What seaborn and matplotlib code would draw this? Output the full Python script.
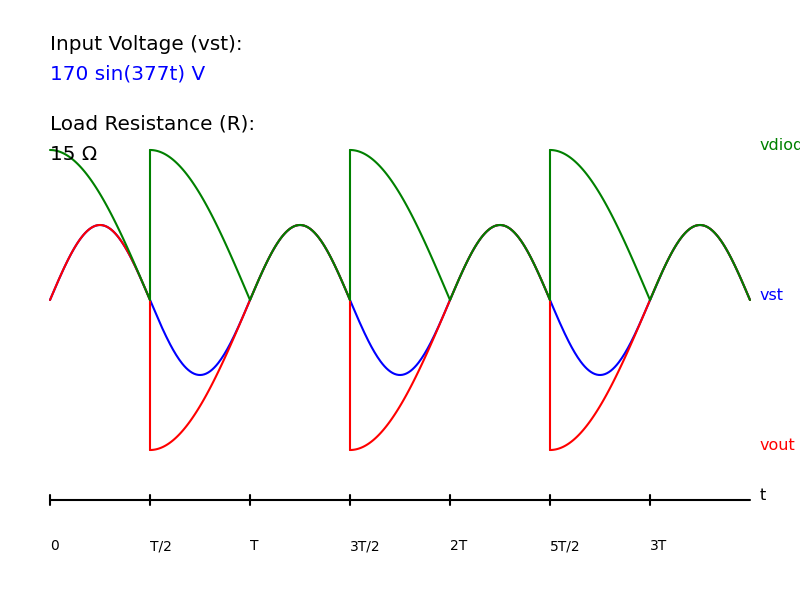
import numpy as np
import pandas as pd
import seaborn as sns
import matplotlib.pyplot as plt

# source: vst = 170 sin(377t) V, load R = 15 ohm
vst_peak = 170.0
omega = 377.0
n_half = 7  # half periods drawn (0 .. 3.5T)

# shape of each half period, per trace
vout_segments = ['hump', 'rise', 'hump', 'rise', 'hump', 'rise', 'hump']
vdiode_segments = ['fall', 'fall', 'hump', 'fall', 'hump', 'fall', 'hump']
seg_peak = {'hump': vst_peak, 'rise': -2 * vst_peak, 'fall': 2 * vst_peak}

tick_labels = ['0', 'T/2', 'T', '3T/2', '2T', '5T/2', '3T']
trace_names = ['vst', 'vout', 'vdiode']
trace_colors = {'vst': 'blue', 'vout': 'red', 'vdiode': 'green'}

T = 2 * np.pi / omega
half = T / 2


def segment(kind, k):
    t = np.linspace(k * half, (k + 1) * half, 80)
    u = (t - k * half) / half
    if kind == 'hump':
        v = vst_peak * np.sin(omega * t)
    else:
        v = seg_peak[kind] * np.cos(np.pi / 2 * u)
    return t, v


rows = []
t_all = np.linspace(0, n_half * half, 700)
for t, v in zip(t_all, vst_peak * np.sin(omega * t_all)):
    rows.append(('vst', 0, t, v))
for name, segs in [('vout', vout_segments), ('vdiode', vdiode_segments)]:
    for k, kind in enumerate(segs):
        t, v = segment(kind, k)
        for a, b in zip(t, v):
            rows.append((name, k, a, b))
df = pd.DataFrame(rows, columns=['trace', 'seg', 't', 'v'])

# map to page pixels: 0..3.5T -> x 50..750, 170 V -> 75 px around y=300
x0, px_per_half = 50, 100
df['x'] = x0 + df['t'] / half * px_per_half
df['y'] = 300 - df['v'] * 75 / vst_peak

sns.set_style('white')
plt.rcParams['font.family'] = ['DejaVu Sans']
plt.rcParams['text.color'] = 'black'

fig = plt.figure(figsize=(8, 6), dpi=100)
ax = fig.add_axes([0, 0, 1, 1])
ax.set_xlim(0, 800)
ax.set_ylim(600, 0)
ax.axis('off')

for name in trace_names:
    sub = df[df['trace'] == name]
    for k, g in sub.groupby('seg'):
        sns.lineplot(data=g, x='x', y='y', ax=ax, color=trace_colors[name],
                     lw=1.5, sort=False, estimator=None)
    # vertical jumps between segments
    segs = list(sub.groupby('seg'))
    for (k1, g1), (k2, g2) in zip(segs[:-1], segs[1:]):
        ya, yb = g1['y'].iloc[-1], g2['y'].iloc[0]
        if abs(ya - yb) > 1:
            xa = g2['x'].iloc[0]
            ax.plot([xa, xa], [ya, yb], color=trace_colors[name], lw=1.5)

# time axis
ax.plot([50, 750], [500, 500], color='black', lw=1.5)
for i, lab in enumerate(tick_labels):
    xt = x0 + i * px_per_half
    ax.plot([xt, xt], [495, 505], color='black', lw=1.5)
    ax.text(xt, 550, lab, fontsize=10, va='baseline', ha='left')
ax.text(760, 500, 't', fontsize=11.5, va='baseline')

ax.text(760, 150, 'vdiode', color='green', fontsize=11.5, va='baseline', clip_on=False)
ax.text(760, 300, 'vst', color='blue', fontsize=11.5, va='baseline')
ax.text(760, 450, 'vout', color='red', fontsize=11.5, va='baseline')

ax.text(50, 50, 'Input Voltage (vst):', fontsize=14.4, va='baseline')
ax.text(50, 80, '170 sin(377t) V', color='blue', fontsize=14.4, va='baseline')
ax.text(50, 130, 'Load Resistance (R):', fontsize=14.4, va='baseline')
ax.text(50, 160, '15 \u03a9', fontsize=14.4, va='baseline')

fig.savefig('out.png', dpi=100)
